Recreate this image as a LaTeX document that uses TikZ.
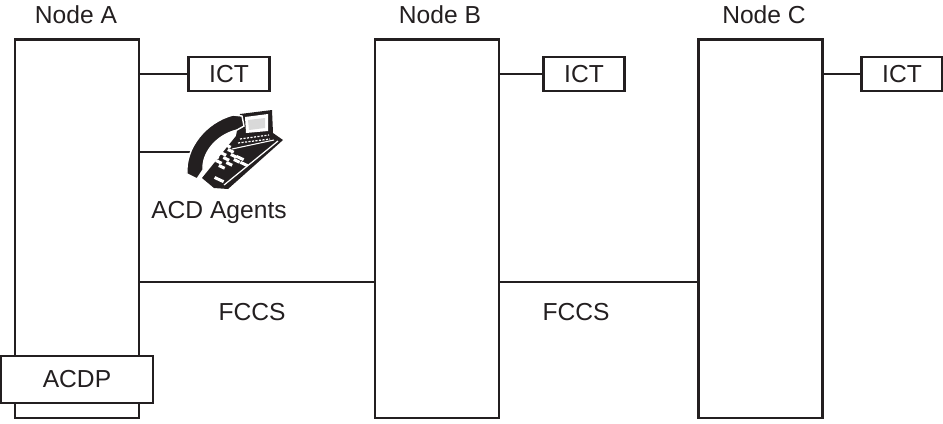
\documentclass[tikz,border=0pt]{standalone}
\usepackage{fontspec}
\setmainfont{Liberation Sans}
\definecolor{ink}{RGB}{35,31,32}
\begin{document}
\begin{tikzpicture}[x=0.2mm,y=-0.2mm,line width=1.35pt,color=ink,
    font=\fontsize{14}{16}\selectfont,
    pbx/.style={draw,minimum width=24.8mm,minimum height=75.7mm,inner sep=0pt},
    ict/.style={draw,fill=white,minimum width=16.2mm,minimum height=6.8mm,inner sep=0pt},
    lbl/.style={anchor=base,inner sep=0pt}]

    % Рамка рисунка
    \useasboundingbox (0,0) rectangle (943,423);

    % Узлы сети
    \node[pbx] (nodeA) at (77,228.75) {};
    \node[pbx] (nodeB) at (437,228.75) {};
    \node[pbx] (nodeC) at (760.5,228.75) {};

    % Подписи узлов
    \node[lbl] (labA) at (76,23)  {Node A};
    \node[lbl] (labB) at (440,23) {Node B};
    \node[lbl] (labC) at (764,23) {Node C};

    % ACDP внутри узла A
    \node[ict,minimum width=30.4mm,minimum height=9.4mm] (acdp) at (77,379.5) {ACDP};

    % Магистрали ICT
    \node[ict] (ictA) at (229,74) {ICT};
    \node[ict] (ictB) at (584,74) {ICT};
    \node[ict] (ictC) at (902,74) {ICT};
    \draw (nodeA.east |- ictA) -- (ictA.west);
    \draw (nodeB.east |- ictB) -- (ictB.west);
    \draw (nodeC.east |- ictC) -- (ictC.west);

    % Линии FCCS
    \coordinate (link) at (0,282);
    \draw (nodeA.east |- link) -- (nodeB.west |- link);
    \draw (nodeB.east |- link) -- (nodeC.west |- link);
    \node[lbl] (fccs1) at (252,320) {FCCS};
    \node[lbl] (fccs2) at (576,320) {FCCS};

    % Телефон агента
    \coordinate (phone) at (190,152);
    \draw (nodeA.east |- phone) -- (phone);
    % корпус
    \fill (202,178) -- (236,136) -- (240,114) -- (272,110) -- (273,133)
        -- (283,140) -- (228,189) -- (214,188) -- cycle;
    % дисплей
    \fill[white] (245,117) -- (268,114) -- (268,131) -- (246,133) -- cycle;
    \fill[black!15] (248,120) -- (265,118) -- (265,128) -- (249,130) -- cycle;
    % функциональные клавиши
    \draw[white,line width=0.7pt,dash pattern=on 1.2pt off 0.8pt] (240,139) -- (269,135);
    \draw[white,line width=0.7pt,dash pattern=on 1.2pt off 0.8pt] (238,143) -- (270,139);
    \draw[white,line width=0.6pt] (232,149) -- (274,140);
    % клавиатура
    \foreach \i in {0,...,3}
      \foreach \j in {0,1,2}
        \fill[white,rotate around={-25:(213+7.5*\j+3*\i,152-3*\j+5*\i)}]
          (209.5+7.5*\j+3*\i,150.5-3*\j+5*\i) rectangle ++(6.5,3);
    \fill[white,rotate around={-25:(240,158)}] (236,156.5) rectangle ++(8,3);
    \fill[white,rotate around={-25:(244,164)}] (240,162.5) rectangle ++(8,3);
    \fill[white,rotate around={-25:(220,180)}] (214,178.5) rectangle ++(10,3);
    % полоса по нижнему краю
    \draw[white,line width=0.7pt] (224,185) -- (278,141);
    % трубка
    \filldraw[draw=white,line width=0.8pt] (187,174) .. controls (185,148) and (206,122) .. (233,115)
        -- (242,116) -- (244,126) -- (237,130) .. controls (217,135) and (202,152) .. (203,170)
        -- (197,179) -- cycle;
    \node[lbl] (agents) at (219,218) {ACD Agents};

\end{tikzpicture}
\end{document}
